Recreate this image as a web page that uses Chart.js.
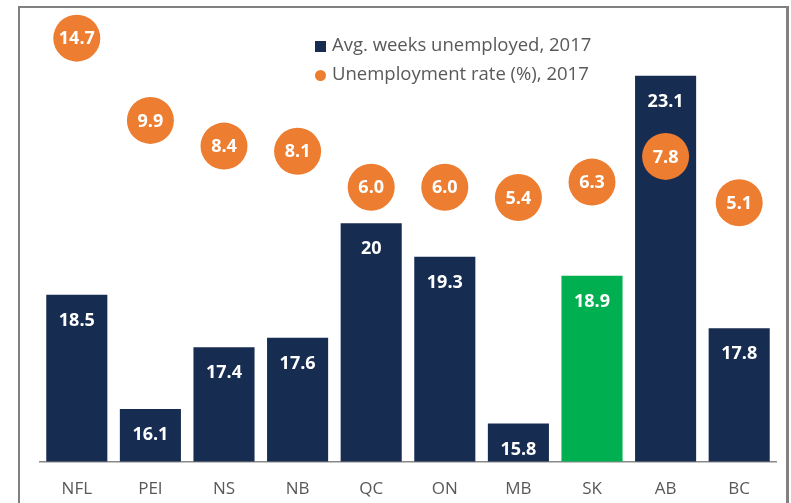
<!DOCTYPE html>
<html>
<head>
<meta charset="utf-8">
<script src="https://cdn.jsdelivr.net/npm/chart.js@4/dist/chart.umd.min.js"></script>
<style>
    html, body { margin: 0; padding: 0; background: #fff; }
    #wrap { position: relative; width: 791px; height: 503px; overflow: hidden; }
    #frame {
        position: absolute; left: 18px; top: 6px; width: 766px; height: 520px;
        border-left: 2px solid #808080; border-top: 2px solid #808080; border-right: 3px solid #808080;
    }
    #chart-box { position: absolute; left: 0; top: 0; width: 791px; height: 503px; }
    #legend {
        position: absolute; left: 315px; top: 29px;
        font-family: "Open Sans", sans-serif; font-size: 18.5px; color: #595959;
    }
    #legend .row { height: 29px; line-height: 29px; white-space: nowrap; }
    #legend .mk { display: inline-block; width: 11px; height: 11px; margin-right: 6px; vertical-align: -1px; }
</style>
</head>
<body>
<div id="wrap">
    <div id="frame"></div>
    <div id="chart-box"><canvas id="c"></canvas></div>
    <div id="legend"></div>
</div>
<script>
(function () {
    'use strict';

    var categories = ['NFL', 'PEI', 'NS', 'NB', 'QC', 'ON', 'MB', 'SK', 'AB', 'BC'];
    var avgWeeks = [18.5, 16.1, 17.4, 17.6, 20, 19.3, 15.8, 18.9, 23.1, 17.8];
    var unempRate = [14.7, 9.9, 8.4, 8.1, 6.0, 6.0, 5.4, 6.3, 7.8, 5.1];
    var seriesNames = ['Avg. weeks unemployed, 2017', 'Unemployment rate (%), 2017'];
    var highlight = 'SK';

    var NAVY = '#172c51';
    var GREEN = '#00b050';
    var ORANGE = '#ed7d31';
    var FONT = '"Open Sans", sans-serif';

    var barColors = categories.map(function (c) {
        return c === highlight ? GREEN : NAVY;
    });

    // legend (html, top right of plot)
    var legend = document.getElementById('legend');
    var markers = [
        { bg: NAVY, radius: '0' },
        { bg: ORANGE, radius: '50%' }
    ];
    for (var i = 0; i < seriesNames.length; i++) {
        var row = document.createElement('div');
        row.className = 'row';
        var mk = document.createElement('span');
        mk.className = 'mk';
        mk.style.background = markers[i].bg;
        mk.style.borderRadius = markers[i].radius;
        row.appendChild(mk);
        row.appendChild(document.createTextNode(seriesNames[i]));
        legend.appendChild(row);
    }

    // value labels: inside top of bars, centered in circles
    var valueLabels = {
        id: 'valueLabels',
        afterDatasetDraw: function (chart, args) {
            var meta = args.meta;
            var ctx = chart.ctx;
            var ds = chart.data.datasets[args.index];
            ctx.save();
            ctx.fillStyle = '#ffffff';
            ctx.font = 'bold 18px ' + FONT;
            ctx.textAlign = 'center';
            ctx.textBaseline = 'middle';
            for (var j = 0; j < meta.data.length; j++) {
                var el = meta.data[j];
                var v = ds.data[j];
                if (meta.type === 'bar') {
                    ctx.fillText(String(v), el.x, el.y + 26);
                } else {
                    ctx.fillText(v.toFixed(1), el.x, el.y + 1);
                }
            }
            ctx.restore();
        }
    };

    new Chart(document.getElementById('c'), {
        data: {
            labels: categories,
            datasets: [{
                type: 'line',
                label: seriesNames[1],
                data: unempRate,
                yAxisID: 'y2',
                showLine: false,
                pointRadius: 23.5,
                pointHoverRadius: 23.5,
                pointBorderWidth: 0,
                pointBackgroundColor: ORANGE,
                borderColor: ORANGE,
                clip: false,
                order: 0
            }, {
                type: 'bar',
                label: seriesNames[0],
                data: avgWeeks,
                yAxisID: 'y',
                backgroundColor: barColors,
                borderWidth: 0,
                categoryPercentage: 1.0,
                barPercentage: 0.83,
                order: 1
            }]
        },
        options: {
            responsive: true,
            maintainAspectRatio: false,
            animation: false,
            events: [],
            layout: {
                autoPadding: false,
                padding: { left: 40, right: 15, top: 9, bottom: 0 }
            },
            plugins: {
                legend: { display: false },
                tooltip: { enabled: false }
            },
            scales: {
                x: {
                    grid: { display: false, drawTicks: false },
                    border: { display: true, color: '#898989', width: 1.5 },
                    ticks: {
                        color: '#595959',
                        font: { family: FONT, size: 17 },
                        padding: 17
                    },
                    afterFit: function (scale) {
                        scale.height = 41.5;
                    }
                },
                y: {
                    display: false,
                    min: 15,
                    max: 24.5
                },
                y2: {
                    display: false,
                    min: -10,
                    max: 16.4
                }
            }
        },
        plugins: [valueLabels]
    });
})();
</script>
</body>
</html>
